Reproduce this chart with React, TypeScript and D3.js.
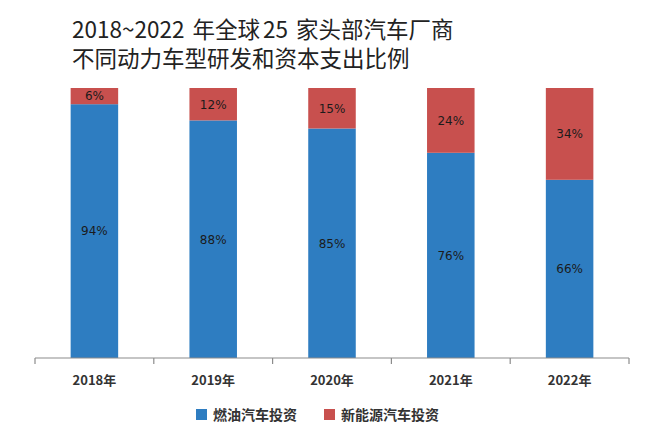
import React, { useEffect, useRef } from 'react'
import * as d3 from 'd3'

const years = ['2018年', '2019年', '2020年', '2021年', '2022年']
const fuelShare = [94, 88, 85, 76, 66]
const nevShare = [6, 12, 15, 24, 34]
const seriesNames = ['燃油汽车投资', '新能源汽车投资']
const seriesColors = ['#2e7dc1', '#c8504e']
// first title line is split where the original leaves a gap between latin and CJK runs
const titleLine1 = ['2018~2022', '年全球', '25', '家头部汽车厂商']
const titleLine2 = '不同动力车型研发和资本支出比例'

const W = 660
const H = 440
const cjk = '"Noto Sans CJK SC", "Noto Sans", sans-serif'

export default function App() {
  const ref = useRef<SVGSVGElement>(null)

  useEffect(() => {
    const svg = d3.select(ref.current)
    svg.selectAll('*').remove()

    const margin = { top: 88, right: 31, bottom: 82, left: 35 }
    const width = W - margin.left - margin.right
    const height = H - margin.top - margin.bottom

    // title
    const t1 = svg.append('text')
      .attr('x', 72)
      .attr('y', 38)
      .attr('font-family', cjk)
      .attr('font-size', 22.5)
      .attr('fill', '#222')
    t1.selectAll('tspan')
      .data(titleLine1)
      .join('tspan')
      .attr('dx', (d, i) => [0, 8, 3, 8][i])
      .text(d => d)
    svg.append('text')
      .attr('x', 72)
      .attr('y', 67)
      .attr('font-family', cjk)
      .attr('font-size', 22.5)
      .attr('fill', '#222')
      .text(titleLine2)

    const g = svg.append('g').attr('transform', `translate(${margin.left},${margin.top})`)

    const x = d3.scaleBand().domain(years).range([0, width]).padding(0)
    const y = d3.scaleLinear().domain([0, 100]).range([height, 0])
    const barW = x.bandwidth() * 0.4

    const data = years.map((yr, i) => ({ year: yr, fuel: fuelShare[i], nev: nevShare[i] }))
    const stacked = d3.stack<any>().keys(['fuel', 'nev'])(data)

    g.append('g')
      .selectAll('g')
      .data(stacked)
      .join('g')
      .attr('fill', (d, i) => seriesColors[i])
      .selectAll('rect')
      .data(D => D.map(d => ({ d, key: D.key })))
      .join('rect')
      .attr('x', o => (x(o.d.data.year) as number) + (x.bandwidth() - barW) / 2)
      .attr('y', o => y(o.d[1]))
      .attr('width', barW)
      .attr('height', o => y(o.d[0]) - y(o.d[1]))

    // value labels
    g.append('g')
      .selectAll('g')
      .data(stacked)
      .join('g')
      .selectAll('text')
      .data(D => D.map(d => ({ d, key: D.key })))
      .join('text')
      .attr('x', o => (x(o.d.data.year) as number) + x.bandwidth() / 2)
      .attr('y', o => (y(o.d[0]) + y(o.d[1])) / 2)
      .attr('dy', '0.36em')
      .attr('text-anchor', 'middle')
      .attr('font-family', '"DejaVu Sans", sans-serif')
      .attr('font-size', 12)
      .attr('fill', '#1b1b1b')
      .text(o => `${o.d[1] - o.d[0]}%`)

    // x axis with ticks at band edges
    const axis = g.append('g').attr('transform', `translate(0,${height})`)
    axis.append('line')
      .attr('x1', 0).attr('x2', width)
      .attr('stroke', '#8c8c8c').attr('stroke-width', 1.2)
    const edges = years.map(yr => x(yr) as number).concat([width])
    axis.selectAll('.tick')
      .data(edges)
      .join('line')
      .attr('class', 'tick')
      .attr('x1', d => d).attr('x2', d => d)
      .attr('y1', 0).attr('y2', 6)
      .attr('stroke', '#8c8c8c').attr('stroke-width', 1.2)
    axis.selectAll('.lbl')
      .data(years)
      .join('text')
      .attr('class', 'lbl')
      .attr('x', d => (x(d) as number) + x.bandwidth() / 2)
      .attr('y', 27)
      .attr('text-anchor', 'middle')
      .attr('font-family', cjk)
      .attr('font-size', 13)
      .attr('font-weight', 'bold')
      .attr('fill', '#333')
      .text(d => d)

    // legend
    const legendX = [196, 324]
    const legend = svg.append('g')
      .selectAll('g')
      .data(seriesNames)
      .join('g')
      .attr('transform', (d, i) => `translate(${legendX[i]},420)`)
    legend.append('rect')
      .attr('x', 0).attr('y', -11)
      .attr('width', 11).attr('height', 11)
      .attr('fill', (d, i) => seriesColors[i])
    legend.append('text')
      .attr('x', 17).attr('y', 0)
      .attr('font-family', cjk)
      .attr('font-size', 14)
      .attr('font-weight', 'bold')
      .attr('fill', '#333')
      .text(d => d)
  }, [])

  return (
    <svg ref={ref} width={W} height={H} style={{ position: 'absolute', left: 0, top: 0, background: '#fff' }} />
  )
}
